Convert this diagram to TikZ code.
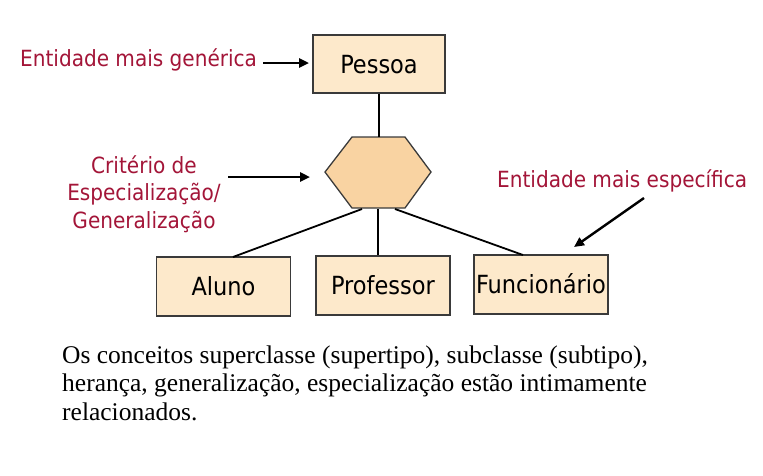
\documentclass[tikz,border=0pt]{standalone}
\usepackage{fontspec}
\setmainfont{Liberation Serif}
\newfontfamily\diagfont{DejaVu Sans Condensed}
\usetikzlibrary{arrows.meta}
\definecolor{boxfill}{HTML}{FDE9CB}
\definecolor{hexfill}{HTML}{F9D3A2}
\definecolor{labelred}{HTML}{A31538}
\definecolor{edge}{HTML}{3A3A3A}
\tikzset{
  entbox/.style={draw=edge, line width=1.3pt, fill=boxfill, inner sep=0pt,
    minimum width=134pt, minimum height=59pt, text height=18.5pt, text depth=0pt,
    font=\diagfont\fontsize{25}{29}\selectfont},
  redlabel/.style={text=labelred, inner sep=0pt, font=\diagfont\fontsize{22.3}{27.5}\selectfont},
  link/.style={line width=1.8pt, black},
  pointer/.style={line width=2.4pt, black, -{Triangle[length=10pt,width=9pt]}},
}
\begin{document}
\begin{tikzpicture}[x=1pt,y=-1pt]
\useasboundingbox (0,0) rectangle (763,475);
% boxes
\node[entbox, minimum width=132pt, minimum height=58pt] (pessoa) at (379,64) {Pessoa};
\node[entbox] (aluno) at (223.5,286.5) {Aluno};
\node[entbox] (prof) at (383,285.5) {Professor};
\node[entbox] (func) at (541,284.5) {Funcionário};
% hexagon
\coordinate (hx) at (378,172);
\draw[draw=edge, line width=1.3pt, fill=hexfill]
  (352,137) -- (405,137) -- (431,172) -- (405,208) -- (352,208) -- (325,172) -- cycle;
\coordinate (hxT) at (379,137);
\coordinate (hxBL) at (362,209);
\coordinate (hxBM) at (378,209);
\coordinate (hxBR) at (395,209);
% connectors
\draw[link] (pessoa.south) -- (hxT);
\draw[link] (hxBL) -- (233,257);
\draw[link] (hxBM) -- (prof.north -| hxBM);
\draw[link] (hxBR) -- (523,255);
% labels
\node[redlabel, anchor=base west] (gen) at (20,66) {Entidade mais genérica};
\node[redlabel, anchor=base, align=center] (crit) at (144,228)
  {Critério de\\Especialização/\\Generalização};
\node[redlabel, anchor=base west] (esp) at (497,187) {Entidade mais específica};
% pointer arrows
\coordinate (genA) at (263,63);
\coordinate (genB) at (309,63);
\coordinate (critA) at (228,177);
\coordinate (critB) at (310,177);
\coordinate (espA) at (644,198);
\coordinate (espB) at (574,247);
\draw[pointer] (genA) -- (genB);
\draw[pointer] (critA) -- (critB);
\draw[pointer] (espA) -- (espB);
% caption
\node[anchor=base west, inner sep=0pt, align=left, font=\fontsize{25.5}{28.5}\selectfont] (cap) at (62,420)
  {Os conceitos superclasse (supertipo), subclasse (subtipo),\\
   herança, generalização, especialização estão intimamente\\
   relacionados.};
\end{tikzpicture}
\end{document}
